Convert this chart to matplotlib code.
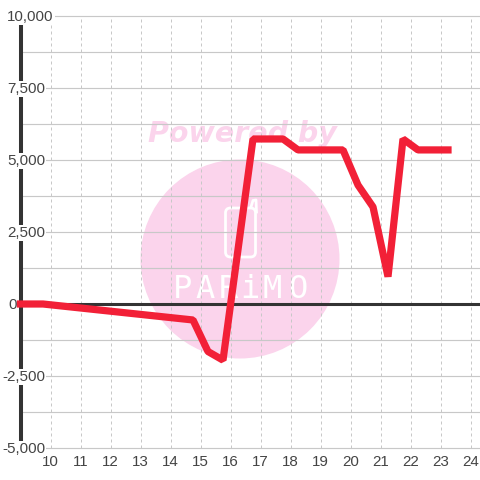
import numpy as np
import matplotlib
matplotlib.use("Agg")
import matplotlib.pyplot as plt
from matplotlib.patches import Circle, FancyBboxPatch

# hour of day vs value
hours = [9, 9.75, 14.75, 15.25, 15.75, 16.75, 17.75, 18.25, 19.75, 20.25, 20.75, 21.25, 21.75, 22.25, 23.25]
values = [0, 0, -555, -1650, -1950, 5730, 5730, 5350, 5350, 4130, 3370, 950, 5730, 5350, 5350]

y_ticks = [10000, 7500, 5000, 2500, 0, -2500, -5000]
y_labels = ["10,000", "7,500", "5,000", "2,500", "0", "-2,500", "-5,000"]
y_minor = [8750, 6250, 3750, 1250, -1250, -3750]
x_ticks = list(range(10, 25))
brand = "PARiMO"
powered = "Powered by"

TEXT = "#444444"
GRID = "#c8c8c8"
DARK = "#333333"
RED = "#f22037"
PINK = "#fbd4ec"

fig = plt.figure(figsize=(4.8, 4.8), dpi=100)

# watermark goes underneath, drawn in pixel coordinates
bg = fig.add_axes([0, 0, 1, 1], zorder=0)
bg.set_xlim(0, 480)
bg.set_ylim(480, 0)
bg.axis("off")
bg.add_patch(Circle((240, 259), 99.5, color=PINK, lw=0))
bg.text(242.5, 134, powered, color=PINK, fontsize=20.5, family="DejaVu Sans",
        weight="bold", style="oblique", ha="center", va="center")
bg.add_patch(FancyBboxPatch((225.5, 208), 30, 49, boxstyle="round,pad=0,rounding_size=5",
                            fc="none", ec="white", lw=2))
bg.plot([251, 253, 256, 256.5], [207, 200.5, 200, 212], color="white", lw=2)
for letter, cx in zip(brand, [182, 205, 228, 250, 272, 298]):
    bg.text(cx, 290, letter, color="white", fontsize=23, family="DejaVu Sans Mono",
            ha="center", va="center")

ax = fig.add_axes([20.5 / 480, 32 / 480, 459.5 / 480, 432 / 480], zorder=1)
ax.patch.set_alpha(0)
ax.set_xlim(9, 9 + 459.5 / 30)
ax.set_ylim(-5000, 10000)
for s in ax.spines.values():
    s.set_visible(False)
ax.set_xticks(x_ticks)
ax.set_yticks([])
ax.tick_params(axis="x", length=0, labelsize=10.9, labelcolor=TEXT, pad=5)
for label in ax.get_xticklabels():
    label.set_family("Liberation Sans")

ax.grid(axis="x", color=GRID, lw=0.72, ls=(0, (3, 3)), zorder=1)
for v in y_ticks + y_minor:
    ax.axhline(v, color=GRID, lw=0.85, zorder=1, clip_on=False)
ax.axvline(9, color=DARK, lw=2.9, zorder=2, clip_on=False)
ax.axhline(0, color=DARK, lw=2.2, zorder=2)
ax.plot(hours, values, color=RED, lw=5.2, solid_joinstyle="bevel",
        solid_capstyle="projecting", zorder=3, clip_on=False)

# the y labels sit on white boxes over the axis line
for v, s in zip(y_ticks, y_labels):
    left = 2 if v < 0 else (8 if v == 0 else 7)
    ax.annotate(s, xy=(0, v), xycoords=("axes fraction", "data"), xytext=(left - 20.5, -1),
                textcoords="offset pixels", ha="left", va="center", fontsize=10.9,
                family="Liberation Sans", color=TEXT, zorder=2.5, annotation_clip=False,
                bbox=dict(fc="white", ec="none", pad=1))

fig.savefig("out.png", dpi=100)
